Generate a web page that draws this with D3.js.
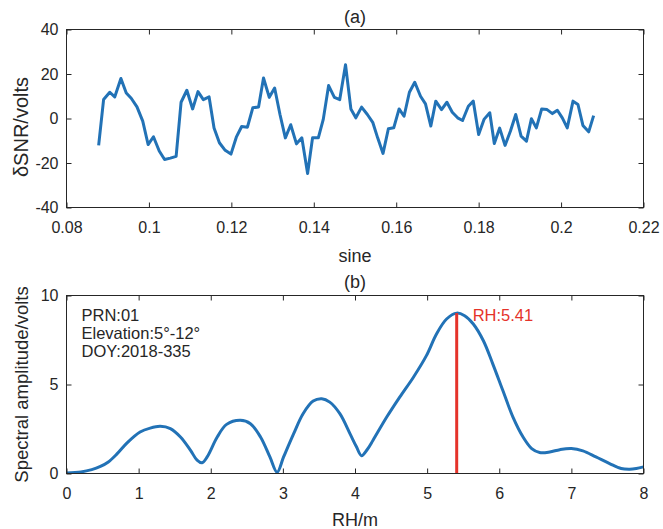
<!DOCTYPE html>
<html><head><meta charset="utf-8">
<script src="https://cdn.jsdelivr.net/npm/d3@7"></script>
<style>html,body{margin:0;padding:0;background:#fff;}svg{display:block;font-family:"Liberation Sans",Arial,sans-serif;}</style>
</head><body>
<svg id="chart" width="663" height="529"></svg>
<script>
// ---- data (a) ----
const sineX = [0.0878,0.0890,0.0905,0.0917,0.0932,0.0945,0.0957,0.0971,0.0985,0.0998,
0.1011,0.1025,0.1038,0.1052,0.1066,0.1078,0.1092,0.1106,0.1119,0.1132,
0.1146,0.1158,0.1171,0.1185,0.1199,0.1212,0.1225,0.1239,0.1252,0.1266,
0.1278,0.1292,0.1305,0.1318,0.1331,0.1344,0.1358,0.1371,0.1385,0.1397,
0.1411,0.1423,0.1436,0.1450,0.1463,0.1477,0.1490,0.1502,0.1516,0.1530,
0.1543,0.1555,0.1568,0.1581,0.1594,0.1607,0.1619,0.1632,0.1645,0.1659,
0.1671,0.1684,0.1696,0.1710,0.1723,0.1736,0.1749,0.1761,0.1775,0.1787,
0.1800,0.1813,0.1827,0.1838,0.1851,0.1864,0.1877,0.1890,0.1903,0.1916,
0.1928,0.1940,0.1953,0.1966,0.1979,0.1991,0.2003,0.2015,0.2029,0.2041,
0.2053,0.2067,0.2079];
const dSNR = [-12.1,8.5,11.8,9.7,18.0,11.5,9.1,5.2,-1.2,-11.7,
-8.2,-14.6,-18.4,-17.8,-17.0,7.3,12.7,4.3,12.1,8.5,
9.7,-4.3,-10.9,-14.3,-16.0,-8.4,-3.6,-3.9,4.8,5.2,
18.2,9.5,13.7,1.8,-8.7,-2.8,-11.4,-8.7,-24.7,-8.7,
-8.7,-0.4,14.8,9.5,8.5,24.2,4.3,0.3,5.1,1.8,
-1.7,-8.7,-15.7,-4.6,-4.2,4.3,1.0,11.8,16.3,10.0,
6.6,-3.4,7.8,4.0,7.3,2.8,0.3,-0.9,5.5,7.8,
-7.2,-0.4,2.6,-11.2,-4.3,-12.1,-5.7,1.8,-7.9,-10.2,
-0.1,-4.2,4.3,4.0,2.2,3.7,0.3,-4.2,7.8,6.3,
-3.1,-6.0,1.3];
const xTicksA = [0.08,0.10,0.12,0.14,0.16,0.18,0.20,0.22];
const xTickLabelsA = ["0.08","0.1","0.12","0.14","0.16","0.18","0.2","0.22"];
const yTicksA = [-40,-20,0,20,40];
const yTickLabelsA = ["-40","-20","0","20","40"];

// ---- data (b) ----
const rh = [0,0.2,0.35,0.47,0.58,0.7,0.84,1.02,1.16,1.3,1.44,
1.58,1.72,1.81,1.88,1.95,2.09,2.22,2.41,2.55,2.69,
2.82,2.92,3.01,3.15,3.28,3.42,3.54,3.65,3.79,3.93,
4.02,4.09,4.17,4.25,4.44,4.62,4.81,4.99,5.13,5.27,
5.41,5.52,5.64,5.78,5.91,6.05,6.19,6.33,6.45,6.56,
6.7,6.84,7.0,7.16,7.34,7.53,7.69,7.81,7.9,8.0];
const amp = [0.03,0.09,0.22,0.4,0.65,1.1,1.72,2.33,2.55,2.65,2.52,
2.05,1.3,0.75,0.6,0.93,2.05,2.76,2.99,2.8,2.05,
0.93,0.07,0.93,2.24,3.36,4.07,4.2,4.01,3.36,2.24,
1.5,1.0,1.35,1.87,3.17,4.29,5.41,6.62,7.84,8.68,
9.01,8.86,8.4,7.46,6.16,4.66,3.17,2.05,1.4,1.18,
1.21,1.34,1.4,1.27,0.93,0.56,0.28,0.24,0.28,0.37];
const xTicksB = [0,1,2,3,4,5,6,7,8];
const yTicksB = [0,5,10];
const peakRH = 5.41;
const peakAmp = 9.01;
const infoLines = ["PRN:01","Elevation:5°-12°","DOY:2018-335"];
const peakLabel = "RH:5.41";

// ---- drawing ----
const svg = d3.select("#chart");
const AX = "#262626", BLUE = "#2272b6", RED = "#e5332a";
const L = 66.5, R = 643.5;

function frame(g, x, y, xt, xl, yt, yl, top, bot) {
  const tickFont = 16;
  g.append("g").attr("transform", `translate(0,${bot})`)
    .call(d3.axisBottom(x).tickValues(xt).tickFormat((d,i)=>xl[i]).tickSizeInner(-5).tickSizeOuter(0).tickPadding(14))
    .call(s=>s.selectAll("text").attr("font-size",tickFont).attr("fill","#262626").attr("font-family","Liberation Sans, Arial, sans-serif"));
  g.append("g").attr("transform", `translate(0,${top})`)
    .call(d3.axisTop(x).tickValues(xt).tickFormat("").tickSizeInner(-5).tickSizeOuter(0));
  g.append("g").attr("transform", `translate(${L},0)`)
    .call(d3.axisLeft(y).tickValues(yt).tickFormat((d,i)=>yl[i]).tickSizeInner(-5).tickSizeOuter(0).tickPadding(8))
    .call(s=>s.selectAll("text").attr("font-size",tickFont).attr("fill","#262626").attr("font-family","Liberation Sans, Arial, sans-serif"));
  g.append("g").attr("transform", `translate(${R},0)`)
    .call(d3.axisRight(y).tickValues(yt).tickFormat("").tickSizeInner(-5).tickSizeOuter(0));
  g.selectAll(".domain").remove();
  g.selectAll(".tick line").attr("stroke", AX);
  g.append("rect").attr("x", L).attr("y", top).attr("width", R-L).attr("height", bot-top)
    .attr("fill","none").attr("stroke",AX).attr("stroke-width",1);
}

// Panel (a)
const topA = 29.5, botA = 207.5;
const xA = d3.scaleLinear().domain([0.08,0.22]).range([L,R]);
const yA = d3.scaleLinear().domain([-40,40]).range([botA,topA]);
const gA = svg.append("g");
gA.append("path").datum(sineX.map((s,i)=>[s,dSNR[i]]))
  .attr("fill","none").attr("stroke",BLUE).attr("stroke-width",3).attr("stroke-linejoin","round")
  .attr("d", d3.line().x(d=>xA(d[0])).y(d=>yA(d[1])));
frame(gA, xA, yA, xTicksA, xTickLabelsA, yTicksA, yTickLabelsA, topA, botA);
gA.append("text").attr("x",(L+R)/2).attr("y",23).attr("text-anchor","middle").attr("font-size",18).attr("fill","#262626").text("(a)");
gA.append("text").attr("x",(L+R)/2).attr("y",262).attr("text-anchor","middle").attr("font-size",18).attr("fill","#262626").text("sine");
gA.append("text").attr("transform","translate(28,127) rotate(-90)").attr("text-anchor","middle").attr("font-size",20).attr("fill","#262626").text("δSNR/volts");

// Panel (b)
const topB = 295.5, botB = 473.5;
const xB = d3.scaleLinear().domain([0,8]).range([L,R]);
const yB = d3.scaleLinear().domain([0,10]).range([botB,topB]);
const gB = svg.append("g");
svg.append("defs").append("clipPath").attr("id","clipB").append("rect")
  .attr("x",L).attr("y",topB).attr("width",R-L).attr("height",botB-topB);
gB.append("path").datum(rh.map((r,i)=>[r,amp[i]]))
  .attr("clip-path","url(#clipB)")
  .attr("fill","none").attr("stroke",BLUE).attr("stroke-width",3).attr("stroke-linejoin","round")
  .attr("d", d3.line().curve(d3.curveCatmullRom.alpha(0.5)).x(d=>xB(d[0])).y(d=>yB(d[1])));
gB.append("line").attr("x1",xB(peakRH)).attr("x2",xB(peakRH)).attr("y1",yB(0)).attr("y2",yB(peakAmp))
  .attr("stroke",RED).attr("stroke-width",3);
frame(gB, xB, yB, xTicksB, xTicksB.map(String), yTicksB, yTicksB.map(String), topB, botB);
gB.append("text").attr("x",xB(peakRH)+16).attr("y",321).attr("font-size",16.5).attr("fill",RED).text(peakLabel);
gB.selectAll(".info").data(infoLines).enter().append("text").attr("class","info")
  .attr("x",81.5).attr("y",(d,i)=>321+i*18).attr("font-size",16.5).attr("fill","#262626").text(d=>d);
gB.append("text").attr("x",(L+R)/2).attr("y",288).attr("text-anchor","middle").attr("font-size",18).attr("fill","#262626").text("(b)");
gB.append("text").attr("x",(L+R)/2).attr("y",526).attr("text-anchor","middle").attr("font-size",18).attr("fill","#262626").text("RH/m");
gB.append("text").attr("transform",`translate(28,${(topB+botB)/2}) rotate(-90)`).attr("text-anchor","middle").attr("font-size",18.5).attr("fill","#262626").text("Spectral amplitude/volts");
</script>
</body></html>
